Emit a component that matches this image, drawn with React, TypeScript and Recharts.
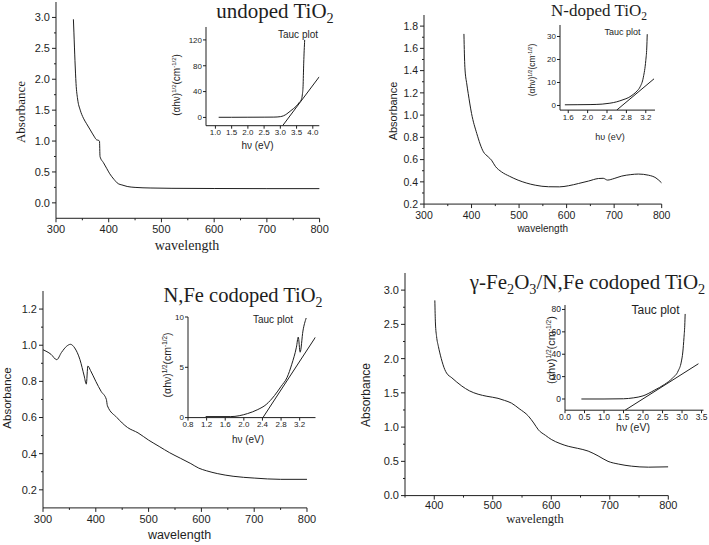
import React from "react";
import { LineChart, Line, XAxis, YAxis } from "recharts";

const SERIF = '"Liberation Serif", "Times New Roman", serif';
const SANS = '"Liberation Sans", Arial, sans-serif';
const INK = "#1e1e1e";

// undoped TiO2
const wl1 = [333, 334, 336, 338, 341, 346, 352, 358, 365, 372, 377, 381, 382.5, 383.5, 390, 396, 402, 410, 418, 425, 435, 450, 480, 520, 600, 700, 800];
const ab1 = [2.97, 2.75, 2.3, 1.93, 1.68, 1.5, 1.37, 1.28, 1.18, 1.08, 1.02, 1.01, 1.0, 0.75, 0.65, 0.56, 0.47, 0.38, 0.31, 0.29, 0.265, 0.25, 0.24, 0.235, 0.232, 0.23, 0.23];
const hv1 = [1.1, 1.5, 2.0, 2.5, 2.8, 3.0, 3.1, 3.2, 3.3, 3.4, 3.5, 3.58, 3.65, 3.68, 3.7, 3.72, 3.75];
const tauc1 = [0.2, 0.2, 0.3, 0.4, 0.5, 1.2, 2.6, 5.5, 9.5, 13.5, 18, 23, 28, 36, 48, 84, 120];
const fitX1 = [3.07, 4.2];
const fitY1 = [-12.8, 63];

// N-doped TiO2
const wl2 = [384, 385, 386, 390, 393, 400, 411, 425, 435, 442, 450, 463, 480, 498, 515, 534, 562, 585, 604, 625, 646, 667, 677, 686, 700, 716, 735, 751, 772, 788, 800];
const ab2 = [1.73, 1.55, 1.43, 1.28, 1.195, 1.015, 0.835, 0.67, 0.625, 0.595, 0.54, 0.49, 0.45, 0.415, 0.39, 0.37, 0.356, 0.355, 0.365, 0.385, 0.407, 0.43, 0.432, 0.416, 0.43, 0.452, 0.465, 0.47, 0.46, 0.435, 0.39];
const hv2 = [1.53, 1.8, 2.05, 2.3, 2.46, 2.6, 2.73, 2.85, 2.94, 3.02, 3.08, 3.15, 3.2, 3.22, 3.23];
const tauc2 = [0.3, 0.35, 0.4, 0.6, 1.0, 1.6, 2.5, 3.5, 4.8, 6.3, 8, 12.3, 19.6, 25, 31];
const fitX2 = [2.6, 3.37];
const fitY2 = [-2, 11.6];

// N,Fe codoped TiO2
const wl3 = [300, 315, 326, 335, 345, 352, 360, 370, 378, 382, 385, 390, 400, 410, 420, 422, 440, 460, 480, 500, 520, 540, 560, 580, 595, 610, 630, 660, 700, 750, 800];
const ab3 = [0.975, 0.95, 0.92, 0.96, 0.995, 1.005, 0.985, 0.92, 0.83, 0.785, 0.885, 0.86, 0.8, 0.745, 0.7, 0.665, 0.6, 0.545, 0.515, 0.475, 0.44, 0.405, 0.375, 0.345, 0.32, 0.305, 0.29, 0.275, 0.265, 0.258, 0.258];
const hv3 = [1.18, 1.72, 2.08, 2.3, 2.48, 2.66, 2.8, 2.93, 3.03, 3.13, 3.17, 3.21, 3.27, 3.34];
const tauc3 = [0.1, 0.1, 0.4, 0.8, 1.3, 2.2, 3.1, 4.0, 5.3, 7.0, 8.0, 6.5, 8.6, 9.9];
const fitX3 = [2.41, 3.54];
const fitY3 = [0, 8.0];

// gamma-Fe2O3 / N,Fe codoped TiO2
const wl4 = [401, 402, 404, 407, 412, 418, 421, 430, 447, 460, 475, 490, 509, 520, 532, 545, 561, 570, 578, 590, 600, 615, 629, 645, 663, 680, 697, 715, 737, 766, 800];
const ab4 = [2.85, 2.52, 2.32, 2.18, 2.0, 1.84, 1.79, 1.72, 1.6, 1.53, 1.48, 1.45, 1.42, 1.39, 1.35, 1.27, 1.16, 1.06, 0.96, 0.88, 0.82, 0.76, 0.72, 0.69, 0.65, 0.58, 0.5, 0.46, 0.43, 0.415, 0.42];
const hv4 = [0.42, 1.0, 1.5, 1.75, 2.0, 2.3, 2.55, 2.75, 2.9, 2.98, 3.02, 3.05, 3.07, 3.08];
const tauc4 = [0, 0, 0.2, 1.0, 2.8, 8, 13, 18.5, 25, 33, 42, 55, 66, 76];
const fitX4 = [1.54, 3.42];
const fitY4 = [-10, 31.5];

// ticks
const wlTicks = [300, 400, 500, 600, 700, 800];
const wlMinor = [350, 450, 550, 650, 750];
const wlTicks4 = [400, 500, 600, 700, 800];
const ab1Ticks = [0, 0.5, 1.0, 1.5, 2.0, 2.5, 3.0];
const ab1Minor = [0.25, 0.75, 1.25, 1.75, 2.25, 2.75];
const ab2Ticks = [0.2, 0.4, 0.6, 0.8, 1.0, 1.2, 1.4, 1.6, 1.8];
const ab2Minor = [0.3, 0.5, 0.7, 0.9, 1.1, 1.3, 1.5, 1.7];
const ab3Ticks = [0.2, 0.4, 0.6, 0.8, 1.0, 1.2];
const ab3Minor = [0.3, 0.5, 0.7, 0.9, 1.1];
const hv1Ticks = [1.0, 1.5, 2.0, 2.5, 3.0, 3.5, 4.0];
const t1Ticks = [0, 40, 80, 120];
const hv2Ticks = [1.6, 2.0, 2.4, 2.8, 3.2];
const t2Ticks = [0, 10, 20, 30];
const hv3Ticks = [0.8, 1.2, 1.6, 2.0, 2.4, 2.8, 3.2];
const t3Ticks = [0, 5, 10];
const hv4Ticks = [0.0, 0.5, 1.0, 1.5, 2.0, 2.5, 3.0, 3.5];
const t4Ticks = [0, 20, 40, 60, 80];

const pts = (xs: number[], ys: number[]) => xs.map((x, i) => ({ x, y: ys[i] }));
const f1 = (v: number) => v.toFixed(1);
const f0 = (v: number) => String(Math.round(v));

type Box = { l: number; t: number; r: number; b: number };

interface FrameProps {
  box: Box;
  xDomain: [number, number];
  yDomain: [number, number];
  xTicks: number[];
  yTicks: number[];
  xMinor?: number[];
  yMinor?: number[];
  xFmt: (v: number) => string;
  yFmt: (v: number) => string;
  fontSize: number;
  major?: number;
  minor?: number;
  gapX?: number;
  gapY?: number;
  curve: { x: number; y: number }[];
  fit?: { x: number; y: number }[];
}

const PAD = 40;
const near = (list: number[], v: number) => list.some((m) => Math.abs(m - v) < 1e-6);

const Frame = (p: FrameProps) => {
  const { box } = p;
  const major = p.major ?? 4;
  const minor = p.minor ?? 2;
  const gapX = p.gapX ?? 3;
  const gapY = p.gapY ?? 2;
  const w = box.r - box.l + 2 * PAD;
  const h = box.b - box.t + 2 * PAD;
  const xAll = [...p.xTicks, ...(p.xMinor ?? [])].sort((a, b) => a - b);
  const yAll = [...p.yTicks, ...(p.yMinor ?? [])].sort((a, b) => a - b);
  const txt = { fontSize: p.fontSize, fill: INK, fontFamily: SANS };

  const xTick = (t: any) => {
    const v = t.payload.value;
    const big = near(p.xTicks, v);
    return (
      <g>
        <line x1={t.x} x2={t.x} y1={t.y} y2={t.y + (big ? major : minor)} stroke={INK} />
        {big && (
          <text x={t.x} y={t.y + major + gapX} dy="0.71em" textAnchor="middle" {...txt}>
            {p.xFmt(v)}
          </text>
        )}
      </g>
    );
  };
  const yTick = (t: any) => {
    const v = t.payload.value;
    const big = near(p.yTicks, v);
    return (
      <g>
        <line x1={t.x - (big ? major : minor)} x2={t.x} y1={t.y} y2={t.y} stroke={INK} />
        {big && (
          <text x={t.x - major - gapY} y={t.y} dy="0.355em" textAnchor="end" {...txt}>
            {p.yFmt(v)}
          </text>
        )}
      </g>
    );
  };

  return (
    <div style={{ position: "absolute", left: box.l - PAD, top: box.t - PAD }}>
      <LineChart width={w} height={h} margin={{ top: PAD, right: PAD, bottom: PAD - 1, left: PAD - 1 }}>
        <XAxis
          type="number"
          dataKey="x"
          domain={p.xDomain}
          allowDataOverflow
          ticks={xAll}
          interval={0}
          tick={xTick}
          tickLine={false}
          tickSize={0}
          tickMargin={0}
          height={1}
          stroke={INK}
        />
        <YAxis
          type="number"
          domain={p.yDomain}
          allowDataOverflow
          ticks={yAll}
          interval={0}
          tick={yTick}
          tickLine={false}
          tickSize={0}
          tickMargin={0}
          width={1}
          stroke={INK}
        />
        <Line
          data={p.curve}
          dataKey="y"
          type="monotone"
          dot={false}
          activeDot={false}
          stroke={INK}
          strokeWidth={1}
          isAnimationActive={false}
        />
        {p.fit && (
          <Line
            data={p.fit}
            dataKey="y"
            type="linear"
            dot={false}
            activeDot={false}
            stroke={INK}
            strokeWidth={1}
            isAnimationActive={false}
          />
        )}
      </LineChart>
    </div>
  );
};

const Txt = ({ x, y, size, font = SANS, rot = false, children }: any) => (
  <div
    style={{
      position: "absolute",
      left: x,
      top: y,
      transform: `translate(-50%, -50%)${rot ? " rotate(-90deg)" : ""}`,
      fontSize: size,
      fontFamily: font,
      lineHeight: 1,
      whiteSpace: "nowrap",
      color: INK,
    }}
  >
    {children}
  </div>
);

const Sub = ({ children }: any) => (
  <span style={{ fontSize: "0.68em", position: "relative", top: "0.32em" }}>{children}</span>
);
const Sup = ({ children }: any) => (
  <span style={{ fontSize: "0.6em", position: "relative", top: "-0.6em" }}>{children}</span>
);
const TaucY = () => (
  <>
    (αhν)<Sup>1/2</Sup>(cm<Sup>-1/2</Sup>)
  </>
);

export default function App() {
  return (
    <div style={{ position: "absolute", left: 0, top: 0, width: 709, height: 545, background: "#fff", overflow: "hidden" }}>
      {/* undoped TiO2 */}
      <Frame
        box={{ l: 55.7, t: 1.8, r: 319.3, b: 218.1 }}
        xDomain={[300, 800]}
        yDomain={[-0.25, 3.25]}
        xTicks={wlTicks}
        xMinor={wlMinor}
        yTicks={ab1Ticks}
        yMinor={ab1Minor}
        xFmt={f0}
        yFmt={f1}
        fontSize={11}
        curve={pts(wl1, ab1)}
      />
      <Frame
        box={{ l: 205.7, t: 27.3, r: 319, b: 126 }}
        xDomain={[0.71, 4.2]}
        yDomain={[-12.8, 140]}
        xTicks={hv1Ticks}
        yTicks={t1Ticks}
        xFmt={f1}
        yFmt={f0}
        fontSize={8}
        major={3}
        gapX={1}
        gapY={1}
        curve={pts(hv1, tauc1)}
        fit={pts(fitX1, fitY1)}
      />
      <Txt x={275} y={11} size={21} font={SERIF}>
        undoped TiO<Sub>2</Sub>
      </Txt>
      <Txt x={20} y={112} size={13} font={SERIF} rot>
        Absorbance
      </Txt>
      <Txt x={187} y={246.3} size={14} font={SERIF}>
        wavelength
      </Txt>
      <Txt x={298} y={35} size={10}>
        Tauc plot
      </Txt>
      <Txt x={176.7} y={85} size={10} rot>
        <TaucY />
      </Txt>
      <Txt x={257.5} y={146} size={10}>
        hν (eV)
      </Txt>

      {/* N-doped TiO2 */}
      <Frame
        box={{ l: 424, t: 14.9, r: 661.7, b: 204 }}
        xDomain={[300, 800]}
        yDomain={[0.2, 1.9]}
        xTicks={wlTicks}
        xMinor={wlMinor}
        yTicks={ab2Ticks}
        yMinor={ab2Minor}
        xFmt={f0}
        yFmt={f1}
        fontSize={10.5}
        curve={pts(wl2, ab2)}
      />
      <Frame
        box={{ l: 560, t: 24.5, r: 655, b: 109.6 }}
        xDomain={[1.43, 3.39]}
        yDomain={[-2, 35]}
        xTicks={hv2Ticks}
        yTicks={t2Ticks}
        xFmt={f1}
        yFmt={f0}
        fontSize={8}
        major={3}
        gapX={1}
        gapY={1}
        curve={pts(hv2, tauc2)}
        fit={pts(fitX2, fitY2)}
      />
      <Txt x={599} y={10} size={17} font={SERIF}>
        N-doped TiO<Sub>2</Sub>
      </Txt>
      <Txt x={393} y={111} size={11} rot>
        Absorbance
      </Txt>
      <Txt x={542.7} y={229} size={10}>
        wavelength
      </Txt>
      <Txt x={622.5} y={32} size={9}>
        Tauc plot
      </Txt>
      <Txt x={531.7} y={70} size={8.5} rot>
        <TaucY />
      </Txt>
      <Txt x={610} y={137} size={9}>
        hυ (eV)
      </Txt>

      {/* N,Fe codoped TiO2 */}
      <Frame
        box={{ l: 42.7, t: 291.2, r: 306.7, b: 508.1 }}
        xDomain={[300, 800]}
        yDomain={[0.1, 1.3]}
        xTicks={wlTicks}
        xMinor={wlMinor}
        yTicks={ab3Ticks}
        yMinor={ab3Minor}
        xFmt={f0}
        yFmt={f1}
        fontSize={11}
        curve={pts(wl3, ab3)}
      />
      <Frame
        box={{ l: 187.5, t: 316.7, r: 315, b: 417.3 }}
        xDomain={[0.8, 3.54]}
        yDomain={[0, 10]}
        xTicks={hv3Ticks}
        yTicks={t3Ticks}
        xFmt={f1}
        yFmt={f0}
        fontSize={8}
        major={3}
        gapX={1}
        gapY={1}
        curve={pts(hv3, tauc3)}
        fit={pts(fitX3, fitY3)}
      />
      <Txt x={243} y={295.4} size={20.5} font={SERIF}>
        N,Fe codoped TiO<Sub>2</Sub>
      </Txt>
      <Txt x={8} y={398} size={11.5} rot>
        Absorbance
      </Txt>
      <Txt x={179.5} y={535} size={12.5}>
        wavelength
      </Txt>
      <Txt x={273} y={320} size={10}>
        Tauc plot
      </Txt>
      <Txt x={167} y={365} size={10.5} rot>
        <TaucY />
      </Txt>
      <Txt x={248} y={440} size={10}>
        hν (eV)
      </Txt>

      {/* gamma-Fe2O3/N,Fe codoped TiO2 */}
      <Frame
        box={{ l: 405, t: 273.4, r: 668.3, b: 496 }}
        xDomain={[350, 800]}
        yDomain={[0, 3.25]}
        xTicks={wlTicks4}
        xMinor={wlMinor}
        yTicks={ab1Ticks}
        yMinor={ab1Minor}
        xFmt={f0}
        yFmt={f1}
        fontSize={11}
        gapX={1.5}
        curve={pts(wl4, ab4)}
      />
      <Frame
        box={{ l: 565, t: 305, r: 703.5, b: 410.2 }}
        xDomain={[0, 3.55]}
        yDomain={[-10, 84]}
        xTicks={hv4Ticks}
        yTicks={t4Ticks}
        xFmt={f1}
        yFmt={f0}
        fontSize={8.5}
        major={3}
        gapX={0.5}
        gapY={1}
        curve={pts(hv4, tauc4)}
        fit={pts(fitX4, fitY4)}
      />
      <Txt x={587.5} y={282.2} size={21} font={SERIF}>
        γ-Fe<Sub>2</Sub>O<Sub>3</Sub>/N,Fe codoped TiO<Sub>2</Sub>
      </Txt>
      <Txt x={366} y={395} size={12} rot>
        Absorbance
      </Txt>
      <Txt x={535} y={518.5} size={12.5} font={SERIF}>
        wavelength
      </Txt>
      <Txt x={655.5} y={310} size={12}>
        Tauc plot
      </Txt>
      <Txt x={551} y={350} size={11} rot>
        <TaucY />
      </Txt>
      <Txt x={633} y={426.5} size={10.5}>
        hν (eV)
      </Txt>
    </div>
  );
}
